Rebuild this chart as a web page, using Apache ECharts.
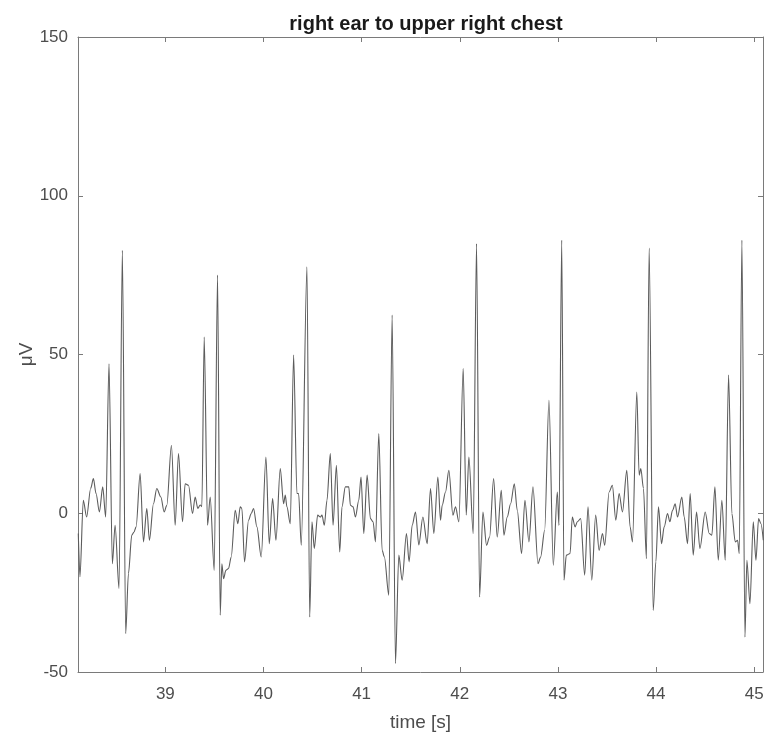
<!DOCTYPE html>
<html>
<head>
<meta charset="utf-8">
<script src="https://cdn.jsdelivr.net/npm/echarts@6/dist/echarts.min.js"></script>
<style>html,body{margin:0;padding:0;background:#fff;}#c{width:777px;height:744px;}</style>
</head>
<body>
<div id="c"></div>
<script>
const titleText = 'right ear to upper right chest';
const xName = 'time [s]';
const yName = 'μV';
const xTicks = [39, 40, 41, 42, 43, 44, 45];
const yTicks = [-50, 0, 50, 100, 150];
const xRange = [38.11, 45.09];
const yRange = [-50, 150];

const times = [
38.113,38.130,38.164,38.198,38.239,38.267,38.294,38.328,38.362,38.392,38.426,38.460,38.488,38.528,38.562,38.596,38.624,38.658,38.681,38.702,38.743,38.777,38.811,38.838,38.879,38.913,38.954,38.988,39.015,39.062,39.100,39.134,39.175,39.202,
39.236,39.277,39.304,39.331,39.355,39.372,39.396,39.430,39.457,39.498,39.532,39.559,39.576,39.593,39.617,39.644,39.671,39.712,39.739,39.763,39.780,39.807,39.848,39.875,39.899,39.933,39.977,40.025,40.059,40.093,40.127,40.171,40.205,40.222,40.239,40.273,40.307,40.341,40.358,40.385,
40.443,40.471,40.494,40.518,40.552,40.579,40.596,40.620,40.647,40.681,40.709,40.743,40.777,40.800,40.834,40.869,40.886,40.913,40.937,40.971,40.994,41.022,41.056,41.090,41.117,41.141,41.175,41.209,41.232,41.277,41.311,41.345,41.379,41.413,41.457,41.484,41.515,41.549,41.583,
41.624,41.668,41.702,41.736,41.777,41.804,41.821,41.855,41.889,41.930,41.957,41.991,42.035,42.066,42.093,42.137,42.171,42.202,42.236,42.273,42.304,42.345,42.382,42.423,42.450,42.484,42.518,42.556,42.586,42.630,42.664,42.705,42.746,
42.797,42.824,42.865,42.909,42.953,42.994,43.011,43.039,43.062,43.086,43.124,43.147,43.175,43.198,43.232,43.273,43.307,43.345,43.385,43.420,43.454,43.477,43.522,43.555,43.590,43.624,43.658,43.702,43.736,43.760,43.804,43.828,43.845,43.872,43.902,
43.930,43.971,43.998,44.025,44.056,44.083,44.117,44.141,44.168,44.195,44.219,44.263,44.287,44.321,44.348,44.379,44.413,44.447,44.501,44.542,44.569,44.600,44.634,44.671,44.705,44.739,44.773,44.807,44.831,44.848,44.875,44.906,44.926,44.957,44.991,45.018,45.045,45.069,45.093
];
const microvolts = [
-6.4,-20.0,4.1,-1.2,7.8,10.9,6.2,0.4,8.3,-1.2,47.1,-15.9,-3.8,-23.7,82.8,-37.9,-19.0,-6.9,-5.9,-4.3,12.5,-9.0,1.5,-8.5,3.0,7.8,5.1,0.4,2.5,21.4,-3.8,18.8,-2.7,9.3,
8.8,-0.1,5.1,1.5,2.6,2.1,55.5,-3.8,5.1,-18.0,75.0,-32.1,-15.9,-20.6,-18.0,-17.4,-13.8,0.9,-3.3,2.0,1.5,-15.3,-2.2,-0.1,1.5,-4.3,-13.8,17.7,-9.6,4.6,-8.5,14.1,3.0,5.7,2.0,-3.3,49.8,6.2,6.2,-10.1,
77.6,-32.7,-2.7,-11.1,-0.6,-1.2,-0.6,-3.8,4.1,18.8,-3.8,15.1,-12.2,2.0,8.3,8.3,2.5,2.0,-1.2,4.1,11.4,-6.4,12.0,-1.7,-2.7,-9.0,25.1,-11.7,-13.8,-25.8,62.4,-47.3,-13.2,-21.1,-6.4,-15.3,-3.8,0.4,-10.0,
-1.2,-9.6,7.8,-6.4,11.4,-2.2,2.5,6.7,13.5,-0.6,2.0,-2.7,45.6,-0.6,17.7,-6.4,84.9,-26.4,0.4,-10.1,-7.5,10.9,-7.5,7.2,-6.9,-1.2,3.0,9.3,0.9,-12.7,4.1,-9.0,8.3,
-15.9,-13.8,-5.4,35.6,-16.4,6.7,-3.8,86.0,-21.1,-13.2,-12.7,-1.2,-4.3,-2.7,-1.7,-19.5,2.0,-21.1,-0.6,-11.7,-6.4,-10.1,6.7,8.8,-2.2,6.2,0.4,13.5,-4.3,-9.0,38.2,12.0,14.1,7.8,-14.3,
83.5,-30.6,-15.3,2.0,-9.6,-4.3,-0.1,-2.7,0.9,3.0,-1.2,5.1,-1.2,-9.6,6.2,-13.2,0.4,-11.1,0.4,-6.4,-6.9,8.3,-14.8,4.1,-14.8,43.5,-0.1,-9.0,-8.5,-12.7,86.0,-39.0,-14.8,-28.5,-2.7,-14.8,-1.7,-3.3,-8.5
];

const seriesData = times.map((t, i) => [t, microvolts[i]]);
const axisColor = '#7a7a7a';
const labelColor = '#4d4d4d';
const fontFamily = 'Liberation Sans, Arial, Helvetica, sans-serif';

const chart = echarts.init(document.getElementById('c'), null, {renderer: 'canvas'});
chart.setOption({
  animation: false,
  backgroundColor: '#ffffff',
  title: {
    text: titleText, left: 421, top: 9, textAlign: 'center',
    textStyle: {fontFamily, fontSize: 20, fontWeight: 'bold', color: '#1a1a1a'}
  },
  grid: {left: 78, right: 14, top: 37, bottom: 72, containLabel: false},
  xAxis: [{
    type: 'value', min: xRange[0], max: xRange[1], position: 'bottom',
    name: xName, nameLocation: 'middle', nameGap: 41, nameMoveOverlap: false,
    nameTextStyle: {fontFamily, fontSize: 19, color: labelColor},
    axisLine: {show: true, onZero: false, lineStyle: {color: axisColor, width: 1}},
    axisTick: {show: true, inside: true, length: 5, customValues: xTicks, lineStyle: {color: axisColor}},
    axisLabel: {show: true, customValues: xTicks, fontFamily, fontSize: 17, color: labelColor, margin: 14},
    splitLine: {show: false}
  }, {
    type: 'value', min: xRange[0], max: xRange[1], position: 'top',
    axisLine: {show: true, onZero: false, lineStyle: {color: axisColor, width: 1}},
    axisTick: {show: true, inside: true, length: 5, customValues: xTicks, lineStyle: {color: axisColor}},
    axisLabel: {show: false}, splitLine: {show: false}
  }],
  yAxis: [{
    type: 'value', min: yRange[0], max: yRange[1], interval: 50, position: 'left',
    name: yName, nameLocation: 'middle', nameGap: 42, nameRotate: 90, nameMoveOverlap: false,
    nameTextStyle: {fontFamily, fontSize: 19, color: labelColor},
    axisLine: {show: true, onZero: false, lineStyle: {color: axisColor, width: 1}},
    axisTick: {show: true, inside: true, length: 5, customValues: yTicks, lineStyle: {color: axisColor}},
    axisLabel: {show: true, customValues: yTicks, fontFamily, fontSize: 17, color: labelColor, margin: 10},
    splitLine: {show: false}
  }, {
    type: 'value', min: yRange[0], max: yRange[1], interval: 50, position: 'right',
    axisLine: {show: true, onZero: false, lineStyle: {color: axisColor, width: 1}},
    axisTick: {show: true, inside: true, length: 5, customValues: yTicks, lineStyle: {color: axisColor}},
    axisLabel: {show: false}, splitLine: {show: false}
  }],
  series: [{
    type: 'line', xAxisIndex: 0, yAxisIndex: 0,
    data: seriesData, showSymbol: false, symbol: 'none',
    smooth: 0.3, smoothMonotone: 'x',
    lineStyle: {color: '#5c5c5c', width: 1.1}
  }]
});
</script>
</body>
</html>
